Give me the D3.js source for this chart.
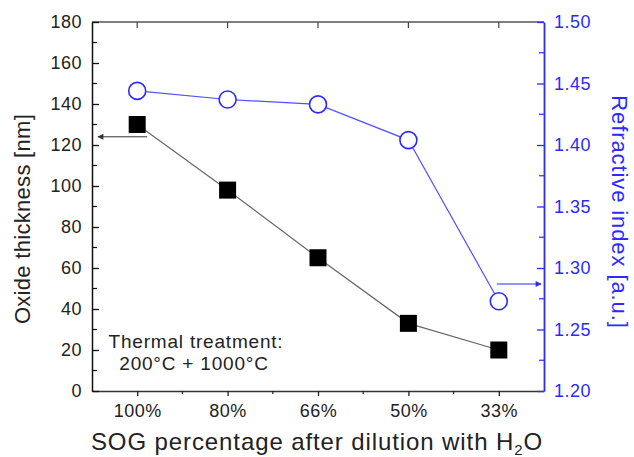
<!DOCTYPE html>
<html lang="en">
<head>
	<meta charset="utf-8">
	<title>Oxide thickness and refractive index</title>
	<script src="https://d3js.org/d3.v7.min.js"></script>
	<style>
	body { margin: 0; background: #fff; }
	text { font-family: Arial, "Liberation Sans", sans-serif; }
	</style>
</head>
<body>
	<script>
	// chart data
	var categories = ["100%", "80%", "66%", "50%", "33%"];
	var thickness = [130, 98, 65, 33, 20];          // nm
	var refIndex = [1.444, 1.437, 1.433, 1.404, 1.273];
	var leftTicks = [0, 20, 40, 60, 80, 100, 120, 140, 160, 180];
	var rightTicks = [1.20, 1.25, 1.30, 1.35, 1.40, 1.45, 1.50];

	// plot box (named so they don't clash with window.top etc.)
	var w = 634, h = 457;
	var pLeft = 92, pRight = 544, pTop = 22, pBottom = 391;
	var blue = "#2b2bff";

	var svg = d3.select("body").append("svg")
		.attr("width", w)
		.attr("height", h);

	var x = d3.scalePoint()
		.domain(categories)
		.range([pLeft, pRight])
		.padding(0.5);

	var yL = d3.scaleLinear().domain([0, 180]).range([pBottom, pTop]);
	var yR = d3.scaleLinear().domain([1.2, 1.5]).range([pBottom, pTop]);

	// minor tick positions between categories
	var step = x.step();
	var xMinor = d3.range(1, categories.length).map(function(i) { return pLeft + i * step; });

	// top frame line
	svg.append("line")
		.attr("x1", pLeft).attr("x2", pRight).attr("y1", pTop).attr("y2", pTop)
		.attr("stroke", "#555").attr("stroke-width", 1.5);

	// bottom axis (ticks outward)
	var gx = svg.append("g")
		.attr("transform", "translate(0," + pBottom + ")")
		.call(d3.axisBottom(x).tickSize(5).tickSizeOuter(0).tickPadding(8));
	gx.select(".domain").attr("stroke", "#333").attr("stroke-width", 1.5);
	gx.selectAll(".tick line").attr("stroke", "#222").attr("stroke-width", 1.3);
	gx.selectAll("text").attr("font-size", 18).attr("letter-spacing", 0.5).attr("fill", "#222");
	gx.selectAll(".minor").data(xMinor).enter().append("line")
		.attr("x1", function(d) { return d; }).attr("x2", function(d) { return d; })
		.attr("y1", 0).attr("y2", 3)
		.attr("stroke", "#222").attr("stroke-width", 1.2);

	// top axis ticks (inward)
	svg.selectAll(".ttick").data(categories).enter().append("line")
		.attr("x1", function(d) { return x(d); }).attr("x2", function(d) { return x(d); })
		.attr("y1", pTop).attr("y2", pTop + 6)
		.attr("stroke", "#444").attr("stroke-width", 1.2);

	// left axis (ticks inward)
	var gl = svg.append("g")
		.attr("transform", "translate(" + pLeft + ",0)")
		.call(d3.axisLeft(yL).tickValues(leftTicks).tickSize(-7).tickSizeOuter(0).tickPadding(10));
	gl.select(".domain").attr("stroke", "#111").attr("stroke-width", 1.5);
	gl.selectAll(".tick line").attr("stroke", "#111").attr("stroke-width", 1.3);
	gl.selectAll("text").attr("font-size", 18).attr("letter-spacing", 0.5).attr("fill", "#222");
	gl.selectAll(".minor").data(leftTicks.slice(0, -1).map(function(d) { return d + 10; }))
		.enter().append("line")
		.attr("x1", 0).attr("x2", 5)
		.attr("y1", function(d) { return yL(d); }).attr("y2", function(d) { return yL(d); })
		.attr("stroke", "#111").attr("stroke-width", 1.2);

	// right axis (ticks inward, blue)
	var gr = svg.append("g")
		.attr("transform", "translate(" + pRight + ",0)")
		.call(d3.axisRight(yR).tickValues(rightTicks).tickFormat(d3.format(".2f")).tickSize(-7).tickSizeOuter(0).tickPadding(10));
	gr.select(".domain").attr("stroke", blue).attr("stroke-width", 1.8);
	gr.selectAll(".tick line").attr("stroke", blue).attr("stroke-width", 1.3);
	gr.selectAll("text").attr("font-size", 18).attr("letter-spacing", 0.5).attr("fill", blue);
	gr.selectAll(".minor").data(rightTicks.slice(0, -1).map(function(d) { return d + 0.025; }))
		.enter().append("line")
		.attr("x1", 0).attr("x2", -5)
		.attr("y1", function(d) { return yR(d); }).attr("y2", function(d) { return yR(d); })
		.attr("stroke", blue).attr("stroke-width", 1.2);

	// thickness series
	var lineL = d3.line()
		.x(function(d, i) { return x(categories[i]); })
		.y(function(d) { return yL(d); });
	svg.append("path")
		.datum(thickness)
		.attr("d", lineL)
		.attr("fill", "none")
		.attr("stroke", "#666")
		.attr("stroke-width", 1.2);
	svg.selectAll(".sq").data(thickness).enter().append("rect")
		.attr("x", function(d, i) { return x(categories[i]) - 8.5; })
		.attr("y", function(d) { return yL(d) - 8.5; })
		.attr("width", 17).attr("height", 17)
		.attr("fill", "#000");

	// refractive index series
	var lineR = d3.line()
		.x(function(d, i) { return x(categories[i]); })
		.y(function(d) { return yR(d); });
	svg.append("path")
		.datum(refIndex)
		.attr("d", lineR)
		.attr("fill", "none")
		.attr("stroke", "#5050ff")
		.attr("stroke-width", 1.2);
	svg.selectAll(".ci").data(refIndex).enter().append("circle")
		.attr("cx", function(d, i) { return x(categories[i]); })
		.attr("cy", function(d) { return yR(d); })
		.attr("r", 8.5)
		.attr("fill", "#fff")
		.attr("stroke", blue)
		.attr("stroke-width", 1.6);

	// arrows pointing to each series' axis
	var defs = svg.append("defs");
	[["arrK", "#333"], ["arrB", blue]].forEach(function(a) {
		defs.append("marker")
			.attr("id", a[0])
			.attr("viewBox", "0 0 10 10")
			.attr("refX", 9).attr("refY", 5)
			.attr("markerWidth", 8).attr("markerHeight", 6)
			.attr("markerUnits", "userSpaceOnUse")
			.attr("orient", "auto")
			.append("path")
			.attr("d", "M0,0 L10,5 L0,10 z")
			.attr("fill", a[1]);
	});
	svg.append("line")
		.attr("x1", x(categories[0]) + 10).attr("x2", pLeft + 6)
		.attr("y1", yL(124)).attr("y2", yL(124))
		.attr("stroke", "#333").attr("stroke-width", 1)
		.attr("marker-end", "url(#arrK)");
	svg.append("line")
		.attr("x1", x(categories[4]) - 2).attr("x2", pRight - 3)
		.attr("y1", yR(1.287)).attr("y2", yR(1.287))
		.attr("stroke", blue).attr("stroke-width", 1)
		.attr("marker-end", "url(#arrB)");

	// annotation
	var note = svg.append("text")
		.attr("font-size", 19)
		.attr("letter-spacing", 0.8)
		.attr("fill", "#222")
		.attr("text-anchor", "middle");
	note.append("tspan").attr("x", 196).attr("y", 348).text("Thermal treatment:");
	note.append("tspan").attr("x", 194).attr("y", 370).text("200°C + 1000°C");

	// axis titles
	svg.append("text")
		.attr("transform", "translate(30,219) rotate(-90)")
		.attr("text-anchor", "middle")
		.attr("font-size", 22)
		.attr("letter-spacing", 0.3)
		.attr("fill", "#222")
		.text("Oxide thickness [nm]");

	svg.append("text")
		.attr("transform", "translate(612,212) rotate(90)")
		.attr("text-anchor", "middle")
		.attr("font-size", 22)
		.attr("letter-spacing", 0.9)
		.attr("fill", blue)
		.text("Refractive index [a.u.]");

	var xt = svg.append("text")
		.attr("x", 317)
		.attr("y", 450)
		.attr("text-anchor", "middle")
		.attr("font-size", 24)
		.attr("letter-spacing", 0.9)
		.attr("fill", "#222");
	xt.append("tspan").text("SOG percentage after dilution with H");
	xt.append("tspan").attr("font-size", 15).attr("dy", 5).text("2");
	xt.append("tspan").attr("dy", -5).text("O");
	</script>
</body>
</html>
